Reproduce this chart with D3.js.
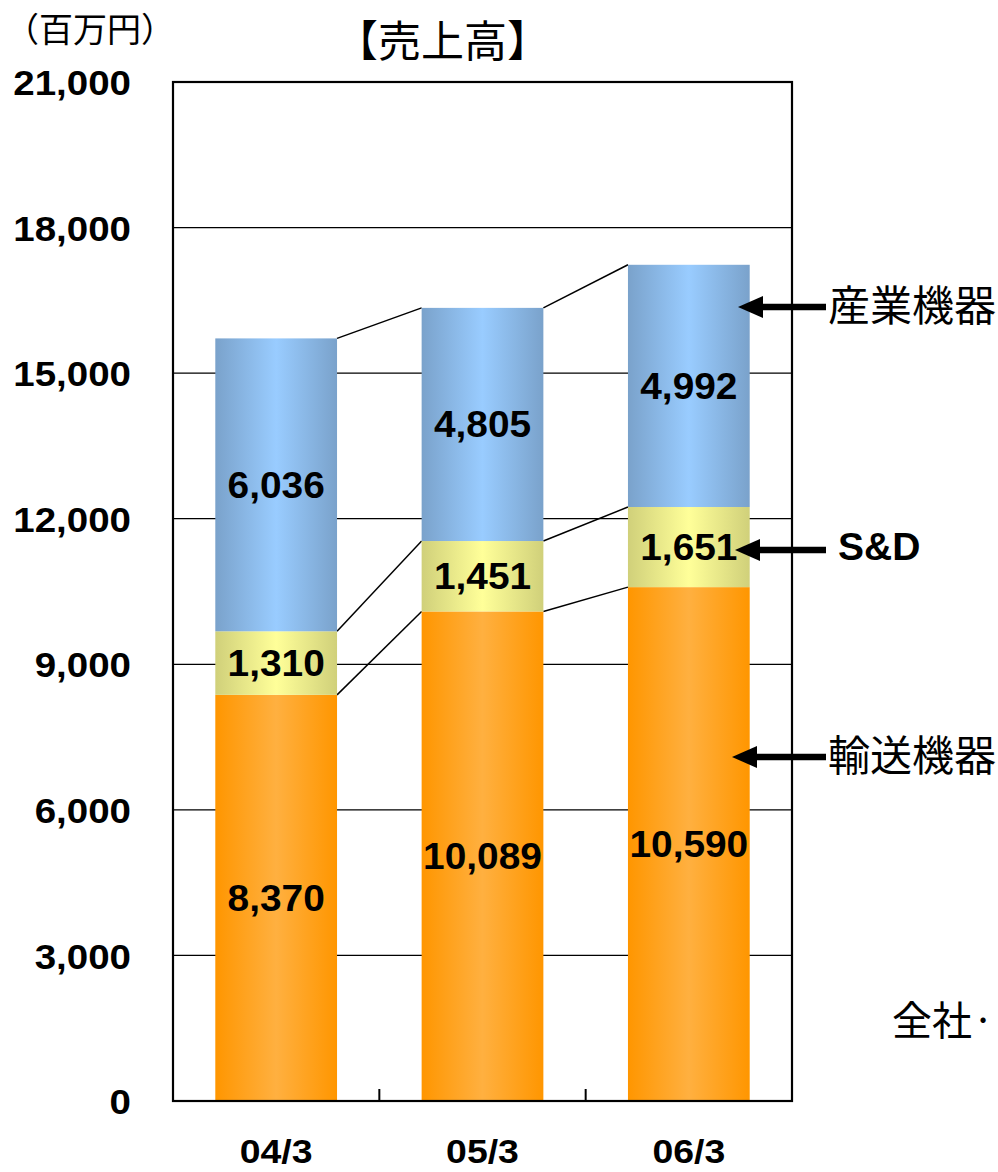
<!DOCTYPE html>
<html><head><meta charset="utf-8">
<script src="https://cdn.jsdelivr.net/npm/d3@7"></script>
<style>
html,body{margin:0;padding:0;background:#fff;}
svg{display:block;}
</style></head>
<body>
<script>
// Sales by segment (million yen)
const categories = ["04/3", "05/3", "06/3"];
const transport = [8370, 10089, 10590];   // 輸送機器
const sd = [1310, 1451, 1651];            // S&D
const industrial = [6036, 4805, 4992];    // 産業機器
const segmentNames = ["輸送機器", "S&D", "産業機器"];
const yTicks = [0, 3000, 6000, 9000, 12000, 15000, 18000, 21000];

const W = 998, H = 1172;
const plotL = 173, plotR = 792, plotT = 82, plotB = 1101;

const svg = d3.select("body").append("svg").attr("width", W).attr("height", H);
const defs = svg.append("defs");

function hGrad(id, edge, mid) {
  const g = defs.append("linearGradient").attr("id", id)
    .attr("x1", "0%").attr("x2", "100%").attr("y1", "0%").attr("y2", "0%");
  g.append("stop").attr("offset", "0%").attr("stop-color", edge);
  g.append("stop").attr("offset", "50%").attr("stop-color", mid);
  g.append("stop").attr("offset", "100%").attr("stop-color", edge);
}
hGrad("gOrange", "#FF9600", "#FFB040");
hGrad("gYellow", "#D0D07A", "#FFFF99");
hGrad("gBlue", "#7AA2CB", "#99CCFF");
const fills = ["url(#gOrange)", "url(#gYellow)", "url(#gBlue)"];

const x = d3.scaleBand().domain(categories).range([plotL, plotR]).paddingInner(0.41).paddingOuter(0.205);
const y = d3.scaleLinear().domain([0, 21000]).range([plotB, plotT]);

const latin = "Liberation Sans, Arial, sans-serif";
const cjk = "'Noto Sans CJK JP', sans-serif";

// stacked layout
const rows = categories.map((c, i) => ({cat: c, s0: transport[i], s1: sd[i], s2: industrial[i]}));
const stack = d3.stack().keys(["s0", "s1", "s2"])(rows);

// gridlines
svg.append("g").selectAll("line").data(yTicks.filter(t => t > 0 && t < 21000)).join("line")
  .attr("x1", plotL).attr("x2", plotR)
  .attr("y1", d => y(d)).attr("y2", d => y(d))
  .attr("stroke", "#000").attr("stroke-width", 1.3);

// connector lines between bars
const conn = svg.append("g");
stack.forEach(layer => {
  for (let i = 0; i < categories.length - 1; i++) {
    conn.append("line")
      .attr("x1", x(categories[i]) + x.bandwidth()).attr("y1", y(layer[i][1]))
      .attr("x2", x(categories[i + 1])).attr("y2", y(layer[i + 1][1]))
      .attr("stroke", "#000").attr("stroke-width", 1.5);
  }
});

// bars
stack.forEach((layer, k) => {
  svg.append("g").selectAll("rect").data(layer).join("rect")
    .attr("x", d => x(d.data.cat))
    .attr("width", x.bandwidth())
    .attr("y", d => y(d[1]))
    .attr("height", d => y(d[0]) - y(d[1]))
    .attr("fill", fills[k]);
});

// value labels
stack.forEach(layer => {
  svg.append("g").selectAll("text").data(layer).join("text")
    .attr("transform", d => `translate(${x(d.data.cat) + x.bandwidth() / 2},${y((d[0] + d[1]) / 2) + 13}) scale(1.05,1)`)
    .attr("text-anchor", "middle")
    .attr("font-family", latin)
    .attr("font-weight", "bold").attr("font-size", 37)
    .attr("fill", "#000")
    .text(d => d3.format(",")(d[1] - d[0]));
});

// plot frame
svg.append("rect").attr("x", plotL).attr("y", plotT)
  .attr("width", plotR - plotL).attr("height", plotB - plotT)
  .attr("fill", "none").attr("stroke", "#000").attr("stroke-width", 2.2);

// y axis labels
const yAxis = d3.axisLeft(y).tickValues(yTicks).tickSize(0).tickPadding(0).tickFormat(d3.format(","));
const ya = svg.append("g").attr("transform", `translate(${plotL - 42},0)`).call(yAxis);
ya.select(".domain").remove();
ya.selectAll("text").attr("font-family", latin)
  .attr("font-weight", "bold").attr("font-size", 35).attr("fill", "#000")
  .attr("x", 0).attr("dy", "0.36em").attr("transform", "scale(1.1,1)");

// x axis: inner ticks between categories, labels below
const boundaries = categories.slice(1).map(c => x(c) - x.step() * x.paddingInner() / 2);
svg.append("g").selectAll("line").data(boundaries).join("line")
  .attr("x1", d => d).attr("x2", d => d)
  .attr("y1", plotB).attr("y2", plotB - 12)
  .attr("stroke", "#000").attr("stroke-width", 2);
const xAxis = d3.axisBottom(x).tickSize(0);
const xa = svg.append("g").attr("transform", `translate(0,${plotB})`).call(xAxis);
xa.select(".domain").remove();
xa.selectAll("text").attr("font-family", latin)
  .attr("font-weight", "bold").attr("font-size", 34).attr("fill", "#000")
  .attr("dy", 0).attr("y", 0).attr("transform", "translate(0,62) scale(1.1,1)");

// titles
svg.append("text").attr("x", 5).attr("y", 42).attr("font-family", cjk)
  .attr("font-size", 34).attr("fill", "#000").text("（百万円）");
svg.append("text").attr("x", 335).attr("y", 57).attr("font-family", cjk)
  .attr("font-size", 43).attr("fill", "#000").text("【売上高】");

// segment annotations with arrows
const ann = [
  {name: segmentNames[2], tip: 738, ay: 307, bold: false},
  {name: segmentNames[1], tip: 735, ay: 550, bold: true},
  {name: segmentNames[0], tip: 732, ay: 757, bold: false}
];
ann.forEach(a => {
  const yy = a.ay;
  svg.append("line").attr("x1", a.tip + 20).attr("x2", 826)
    .attr("y1", yy).attr("y2", yy).attr("stroke", "#000").attr("stroke-width", 6.5);
  svg.append("path")
    .attr("d", `M${a.tip},${yy} L${a.tip + 25},${yy - 11} L${a.tip + 25},${yy + 11} Z`)
    .attr("fill", "#000");
  const t = svg.append("text").attr("fill", "#000");
  if (a.bold) {
    t.attr("x", 838).attr("y", yy + 10).attr("font-family", latin)
      .attr("font-weight", "bold").attr("font-size", 39).text(a.name);
  } else {
    t.attr("x", 828).attr("y", yy + 14).attr("font-family", cjk)
      .attr("font-size", 42).text(a.name);
  }
});

svg.append("text").attr("x", 892).attr("y", 1035).attr("font-family", cjk)
  .attr("font-size", 40).attr("fill", "#000").text("全社·");
</script>
</body></html>
